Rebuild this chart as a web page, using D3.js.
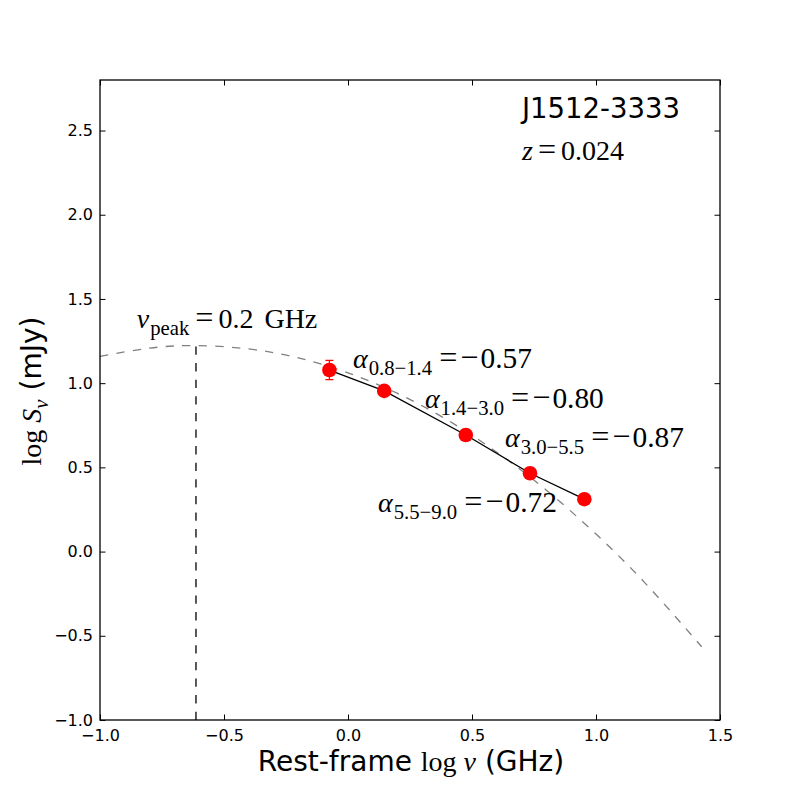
<!DOCTYPE html>
<html>
<head>
  <meta charset="utf-8">
  <title>J1512-3333 radio spectrum</title>
  <script src="https://cdn.jsdelivr.net/npm/d3@7/dist/d3.min.js"></script>
  <style>
    html, body { margin: 0; padding: 0; background: #fff; }
    svg { display: block; }
  </style>
</head>
<body>
  <svg width="800" height="800"></svg>

  <script>
    // measured flux densities (rest-frame log nu, log S)
    const logNu = [-0.075, 0.146, 0.475, 0.734, 0.953];
    const logS = [1.078, 0.954, 0.692, 0.465, 0.311];
    const logSErr = [0.057, 0.02, 0.02, 0.02, 0.02];

    // fitted curved spectrum
    const fitX = [-1.0, -0.8, -0.613, -0.4, -0.2, 0.0, 0.2, 0.4, 0.6, 0.8, 1.0, 1.2, 1.426];
    const fitY = [1.159, 1.208, 1.223, 1.203, 1.150, 1.061, 0.939, 0.782, 0.590, 0.364, 0.104, -0.190, -0.565];

    const peakLogNu = -0.613;
    const peakLogS = 1.223;

    const xTicks = [-1.0, -0.5, 0.0, 0.5, 1.0, 1.5];
    const yTicks = [-1.0, -0.5, 0.0, 0.5, 1.0, 1.5, 2.0, 2.5];

    const alphaSubs = ["0.8\u22121.4", "1.4\u22123.0", "3.0\u22125.5", "5.5\u22129.0"];
    const alphaVals = ["\u22120.57", "\u22120.80", "\u22120.87", "\u22120.72"];

    const sans = "'DejaVu Sans', sans-serif";
    const serif = "'Liberation Serif', 'DejaVu Serif', serif";

    const svg = d3.select("svg");
    const margin = { top: 80, right: 80, bottom: 80, left: 100 };
    const width = 800 - margin.left - margin.right;
    const height = 800 - margin.top - margin.bottom;

    const x = d3.scaleLinear().domain([-1.0, 1.5]).range([margin.left, margin.left + width]);
    const y = d3.scaleLinear().domain([-1.0, 2.8]).range([margin.top + height, margin.top]);

    // math-like text made of tspans
    function mathText(sel, px, py, parts, size, anchor) {
      const t = sel.append("text")
        .attr("x", px).attr("y", py)
        .attr("font-family", serif)
        .attr("font-size", size)
        .attr("text-anchor", anchor || "start")
        .attr("fill", "#000");
      let down = false;
      parts.forEach(p => {
        const ts = t.append("tspan").text(p.t);
        if (p.sub && !down) { ts.attr("dy", size * 0.24); down = true; }
        else if (!p.sub && down) { ts.attr("dy", -size * 0.24); down = false; }
        if (p.sub) ts.attr("font-size", size * 0.74);
        if (p.op) ts.attr("font-size", size * 1.15);
        if (p.big) ts.attr("font-size", size * 1.05);
        if (p.it) ts.attr("font-style", "italic");
        if (p.dx) ts.attr("dx", p.dx);
        if (p.font) ts.attr("font-family", p.font);
      });
      return t;
    }

    const plot = svg.append("g");

    // dashed fit curve
    const curve = d3.line()
      .x((d, i) => x(fitX[i]))
      .y(d => y(d))
      .curve(d3.curveNatural);

    plot.append("path")
      .attr("d", curve(fitY))
      .attr("fill", "none")
      .attr("stroke", "#808080")
      .attr("stroke-width", 1.3)
      .attr("stroke-dasharray", "8.3,8.3");

    // peak marker line
    plot.append("line")
      .attr("x1", x(peakLogNu)).attr("x2", x(peakLogNu))
      .attr("y1", y(-1.0)).attr("y2", y(peakLogS))
      .attr("stroke", "#000")
      .attr("stroke-width", 1.3)
      .attr("stroke-dasharray", "8.3,8.3");

    // solid line through the points
    const seg = d3.line()
      .x((d, i) => x(logNu[i]))
      .y(d => y(d));

    plot.append("path")
      .attr("d", seg(logS))
      .attr("fill", "none")
      .attr("stroke", "#000")
      .attr("stroke-width", 1.3);

    // error bars
    const eb = plot.selectAll("g.err")
      .data(logS)
      .enter().append("g").attr("class", "err");
    eb.append("line")
      .attr("x1", (d, i) => x(logNu[i])).attr("x2", (d, i) => x(logNu[i]))
      .attr("y1", (d, i) => y(d - logSErr[i])).attr("y2", (d, i) => y(d + logSErr[i]))
      .attr("stroke", "red").attr("stroke-width", 1.3);
    [-1, 1].forEach(s => {
      eb.append("line")
        .attr("x1", (d, i) => x(logNu[i]) - 4).attr("x2", (d, i) => x(logNu[i]) + 4)
        .attr("y1", (d, i) => y(d + s * logSErr[i])).attr("y2", (d, i) => y(d + s * logSErr[i]))
        .attr("stroke", "red").attr("stroke-width", 1.3);
    });

    plot.selectAll("circle.pt")
      .data(logS)
      .enter().append("circle")
      .attr("class", "pt")
      .attr("cx", (d, i) => x(logNu[i]))
      .attr("cy", d => y(d))
      .attr("r", 7.3)
      .attr("fill", "red");

    // frame
    svg.append("rect")
      .attr("x", margin.left).attr("y", margin.top)
      .attr("width", width).attr("height", height)
      .attr("fill", "none").attr("stroke", "#000").attr("stroke-width", 1.3);

    // inward ticks on all sides
    const tl = 5.5;
    const fmt = d3.format(".1f");
    const minus = s => s.replace("-", "\u2212");

    const xa = svg.append("g")
      .attr("transform", `translate(0,${margin.top + height})`)
      .call(d3.axisBottom(x).tickValues(xTicks).tickSize(-tl).tickPadding(10).tickFormat(d => minus(fmt(d))));
    const xt = svg.append("g")
      .attr("transform", `translate(0,${margin.top})`)
      .call(d3.axisTop(x).tickValues(xTicks).tickSize(-tl).tickFormat(""));
    const ya = svg.append("g")
      .attr("transform", `translate(${margin.left},0)`)
      .call(d3.axisLeft(y).tickValues(yTicks).tickSize(-tl).tickPadding(7).tickFormat(d => minus(fmt(d))));
    const yr = svg.append("g")
      .attr("transform", `translate(${margin.left + width},0)`)
      .call(d3.axisRight(y).tickValues(yTicks).tickSize(-tl).tickFormat(""));

    [xa, xt, ya, yr].forEach(a => {
      a.select(".domain").remove();
      a.selectAll(".tick line").attr("stroke", "#000").attr("stroke-width", 1);
      a.selectAll(".tick text")
        .attr("font-family", sans)
        .attr("font-size", 16)
        .attr("fill", "#000");
    });

    // axis labels
    mathText(svg, 411, 771, [
      { t: "Rest-frame ", font: sans },
      { t: "log " },
      { t: "\u03bd", it: true },
      { t: " (GHz)", font: sans }
    ], 28, "middle");

    mathText(svg, 0, 0, [
      { t: "log " },
      { t: "S", it: true },
      { t: "\u03bd", it: true, sub: true },
      { t: " (mJy)", font: sans }
    ], 28, "middle").attr("transform", "translate(41,391) rotate(-90)");

    // title and redshift
    svg.append("text")
      .attr("x", 522).attr("y", 118)
      .attr("font-family", sans).attr("font-size", 27.5)
      .text("J1512-3333");

    mathText(svg, 522, 160, [
      { t: "z", it: true },
      { t: "=", op: true, dx: 5 },
      { t: "0.024", dx: 5 }
    ], 28);

    // peak label
    mathText(svg, x(-0.852), y(1.328), [
      { t: "\u03bd", it: true },
      { t: "peak", sub: true, dx: 1 },
      { t: "=", op: true, dx: 6 },
      { t: "0.2 GHz", dx: 5 }
    ], 28).attr("word-spacing", 4);

    // spectral index labels
    const alphaX = [0.02, 0.31, 0.633, 0.121];
    const alphaY = [1.09, 0.853, 0.621, 0.235];
    alphaSubs.forEach((s, i) => {
      mathText(svg, x(alphaX[i]), y(alphaY[i]), [
        { t: "\u03b1", it: true },
        { t: s, sub: true, dx: 1 },
        { t: "=", op: true, dx: 7 },
        { t: "\u2212", op: true, dx: 3 },
        { t: alphaVals[i].slice(1), big: true, dx: 2 }
      ], 28);
    });
  </script>
</body>
</html>
